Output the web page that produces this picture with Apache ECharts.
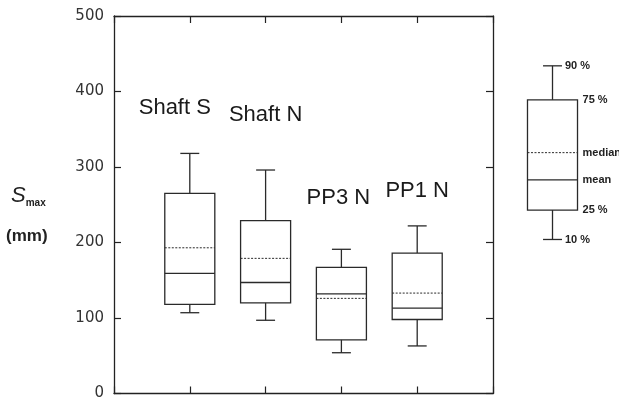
<!DOCTYPE html>
<html>
<head>
<meta charset="utf-8">
<script src="https://cdn.jsdelivr.net/npm/echarts@6/dist/echarts.min.js"></script>
<style>
  html, body { margin: 0; padding: 0; background: #fff; }
  #chart { width: 619px; height: 401px; }
</style>
</head>
<body>
<div id="chart"></div>
<script>
// box statistics per site (mm)
const categories = ["Shaft S", "Shaft N", "PP3 N", "PP1 N"];
const p10 = [107, 97, 54, 63];
const p25 = [118, 120, 71, 98];
const meanVals = [159, 147, 132, 113];
const medianVals = [193, 179, 126, 133];
const p75 = [265, 229, 167, 186];
const p90 = [318, 296, 191, 222];
const yTicks = [0, 100, 200, 300, 400, 500];

// where the site names sit (y in mm, x shift in px)
const labelY = [378, 369, 259, 268];
const labelDx = [-15, 0, -3, 0];

// key box drawn to the right of the plot
const keyX = 5.785;
const keyStats = [204, 243, 283, 319, 389, 434];
const keyLabels = ["10 %", "25 %", "mean", "median", "75 %", "90 %"];

const ink = "#2a2a2a";

function drawBox(api) {
  const x = api.value(0);
  const w = api.size([1, 0])[0];
  const half = w * 0.33, cap = w * 0.125;
  const yOf = (v) => api.coord([x, v])[1];
  const cx = api.coord([x, 0])[0];
  const yLo = yOf(api.value(1)), yQ1 = yOf(api.value(2)), yMean = yOf(api.value(3));
  const yMed = yOf(api.value(4)), yQ3 = yOf(api.value(5)), yHi = yOf(api.value(6));
  const solid = { stroke: ink, lineWidth: 1.3, fill: null };
  const dotted = { stroke: ink, lineWidth: 1, lineDash: [2, 1.5] };
  return {
    cx, half, cap, yLo, yQ1, yMean, yMed, yQ3, yHi,
    children: [
      { type: "line", shape: { x1: cx, y1: yQ3, x2: cx, y2: yHi }, style: solid },
      { type: "line", shape: { x1: cx - cap, y1: yHi, x2: cx + cap, y2: yHi }, style: solid },
      { type: "line", shape: { x1: cx, y1: yQ1, x2: cx, y2: yLo }, style: solid },
      { type: "line", shape: { x1: cx - cap, y1: yLo, x2: cx + cap, y2: yLo }, style: solid },
      { type: "rect", shape: { x: cx - half, y: yQ3, width: half * 2, height: yQ1 - yQ3 }, style: solid },
      { type: "line", shape: { x1: cx - half, y1: yMean, x2: cx + half, y2: yMean }, style: solid },
      { type: "line", shape: { x1: cx - half, y1: yMed, x2: cx + half, y2: yMed }, style: dotted }
    ]
  };
}

const boxData = categories.map((c, i) => [i + 1, p10[i], p25[i], meanVals[i], medianVals[i], p75[i], p90[i]]);

const chart = echarts.init(document.getElementById("chart"));

const axisLine = { show: true, onZero: false, lineStyle: { color: "#222", width: 1.3 } };
const tick = { show: true, inside: true, length: 7, lineStyle: { color: "#222", width: 1.2 } };

chart.setOption({
  animation: false,
  grid: { left: 114, right: 126, top: 16, bottom: 7 },
  xAxis: [
    { type: "value", min: 0, max: 5, interval: 1, position: "bottom",
      axisLine, axisTick: tick, axisLabel: { show: false }, splitLine: { show: false } },
    { type: "value", min: 0, max: 5, interval: 1, position: "top",
      axisLine, axisTick: tick, axisLabel: { show: false }, splitLine: { show: false } }
  ],
  yAxis: [
    { type: "value", min: yTicks[0], max: yTicks[yTicks.length - 1], interval: 100, position: "left",
      axisLine, axisTick: tick, splitLine: { show: false },
      axisLabel: { margin: 10, color: "#333", fontFamily: "DejaVu Sans", fontSize: 15 } },
    { type: "value", min: yTicks[0], max: yTicks[yTicks.length - 1], interval: 100, position: "right",
      axisLine, axisTick: tick, axisLabel: { show: false }, splitLine: { show: false } }
  ],
  graphic: [
    { type: "text", left: 11, top: 185,
      style: { text: "{s|S}{m|max}", rich: {
        s: { fontFamily: "Liberation Sans", fontStyle: "italic", fontSize: 22, fill: "#222" },
        m: { fontFamily: "Liberation Sans", fontWeight: "bold", fontSize: 10, fill: "#222", padding: [14, 0, 0, 0] }
      } } },
    { type: "text", left: 6, top: 228,
      style: { text: "(mm)", fontFamily: "Liberation Sans", fontWeight: "bold", fontSize: 17, fill: "#222" } }
  ],
  series: [
    {
      type: "custom",
      coordinateSystem: "cartesian2d",
      data: boxData,
      renderItem: (params, api) => {
        const b = drawBox(api);
        const i = params.dataIndex;
        b.children.push({
          type: "text",
          style: {
            text: categories[i],
            x: b.cx + labelDx[i],
            y: api.coord([api.value(0), labelY[i]])[1],
            align: "center", verticalAlign: "middle",
            font: "22px 'Liberation Sans'", fill: "#1a1a1a"
          }
        });
        return { type: "group", children: b.children };
      }
    },
    {
      type: "custom",
      coordinateSystem: "cartesian2d",
      clip: false,
      data: [[keyX].concat(keyStats)],
      renderItem: (params, api) => {
        const b = drawBox(api);
        const font = "bold 11px 'Liberation Sans'";
        const ys = [b.yLo, b.yQ1, b.yMean, b.yMed, b.yQ3, b.yHi];
        keyLabels.forEach((t, k) => {
          const atCap = k === 0 || k === 5;
          b.children.push({
            type: "text",
            style: {
              text: t,
              x: atCap ? b.cx + b.cap + 3 : b.cx + b.half + 5,
              y: ys[k], align: "left", verticalAlign: "middle", font, fill: "#222"
            }
          });
        });
        return { type: "group", children: b.children };
      }
    }
  ]
});
</script>
</body>
</html>
